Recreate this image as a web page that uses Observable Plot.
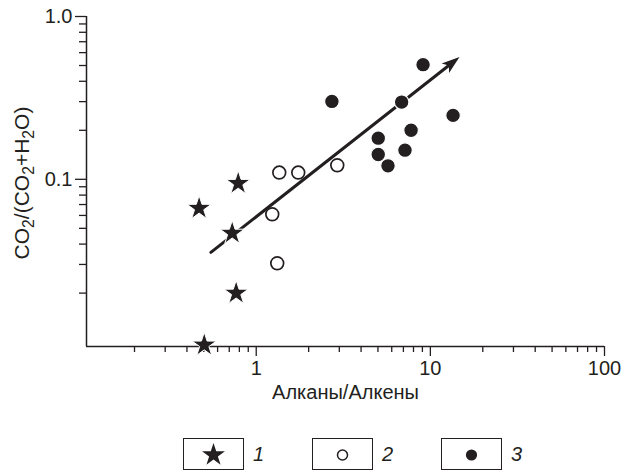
<!DOCTYPE html>
<html><head><meta charset="utf-8">
<script src="https://cdn.jsdelivr.net/npm/d3@7"></script>
<script src="https://cdn.jsdelivr.net/npm/@observablehq/plot@0.6"></script>
<style>
body{margin:0;background:#fff;font-family:"Liberation Sans",Arial,sans-serif;}
#legend{position:relative;height:59px;width:635px;}
.item{position:absolute;top:26px;display:flex;align-items:center;height:32px;}
.item span{font-style:italic;font-size:20px;margin-left:9px;color:#231f20;}
</style></head><body><div id="chart"></div><div id="legend"></div>
<script>
const ink = "#231f20";
// group 1 (stars), group 2 (open circles), group 3 (filled circles)
const group1X = [0.470, 0.788, 0.728, 0.767, 0.503];
const group1Y = [0.0664, 0.0945, 0.0467, 0.0200, 0.0096];
const group2X = [1.356, 1.743, 1.236, 1.32, 2.92];
const group2Y = [0.110, 0.110, 0.061, 0.0305, 0.122];
const group3X = [2.72, 9.08, 6.84, 13.5, 7.75, 5.02, 5.02, 7.15, 5.71];
const group3Y = [0.301, 0.506, 0.298, 0.247, 0.200, 0.179, 0.142, 0.151, 0.121];
const trendX = [0.549, 14.7];
const trendY = [0.0356, 0.563];
const xTickValues = [1, 10, 100];
const xTickLabels = ["1", "10", "100"];
const yTickValues = [0.1, 1];
const yTickLabels = ["0.1", "1.0"];
const xMinorTicks = [0.2,0.3,0.4,0.5,0.6,0.7,0.8,0.9,2,3,4,5,6,7,8,9,20,30,40,50,60,70,80,90];
const yMinorTicks = [0.02,0.03,0.04,0.05,0.06,0.07,0.08,0.09,0.2,0.3,0.4,0.5,0.6,0.7,0.8,0.9];
const legendLabels = ["1", "2", "3"];
const xTitle = "Алканы/Алкены";
const yTitleParts = [["CO",""],["2","sub"],["/(CO",""],["2","sub"],["+H",""],["2","sub"],["O)",""]];

const W = 635, H = 412, mL = 86, mR = 31, mT = 16, mB = 66;
const xDomain = [0.106, 100], yDomain = [0.0094, 1];
const FS = 20;

const pts = (xs, ys) => xs.map((x, i) => ({x, y: ys[i]}));
const g1 = pts(group1X, group1Y), g2 = pts(group2X, group2Y), g3 = pts(group3X, group3Y);
const trend = [{x1: trendX[0], y1: trendY[0], x2: trendX[1], y2: trendY[1]}];

// screen angle of the trend arrow (for the arrowhead rotation)
const sx = d3.scaleLog(xDomain, [mL, W - mR]), sy = d3.scaleLog(yDomain, [H - mB, mT]);
const angle = Math.atan2(sy(trendY[1]) - sy(trendY[0]), sx(trendX[1]) - sx(trendX[0])) * 180 / Math.PI + 90;
const arrowHead = {draw(ctx) { ctx.moveTo(0, 0); ctx.lineTo(6, 18); ctx.lineTo(0, 13.5); ctx.lineTo(-6, 18); ctx.closePath(); }};

const plot = Plot.plot({
  width: W, height: H,
  marginLeft: mL, marginRight: mR, marginTop: mT, marginBottom: mB,
  style: {fontFamily: "Liberation Sans, Arial, sans-serif", color: ink, background: "#fff"},
  x: {type: "log", domain: xDomain},
  y: {type: "log", domain: yDomain},
  marks: [
    Plot.axisX(xMinorTicks, {tickSize: 6, tickFormat: () => "", strokeWidth: 1.3, label: null}),
    Plot.axisX(xTickValues, {tickSize: 10, tickPadding: 4, fontSize: FS, strokeWidth: 1.3,
      tickFormat: d => xTickLabels[xTickValues.indexOf(d)], label: null}),
    Plot.axisY(yMinorTicks, {tickSize: 7, tickFormat: () => "", strokeWidth: 1.3, label: null}),
    Plot.axisY(yTickValues, {tickSize: 11, tickPadding: 3, fontSize: FS, strokeWidth: 1.3,
      tickFormat: d => yTickLabels[yTickValues.indexOf(d)], label: null}),
    Plot.ruleY([yDomain[0]], {stroke: ink, strokeWidth: 1.5}),
    Plot.ruleX([xDomain[0]], {stroke: ink, strokeWidth: 1.5}),
    Plot.arrow(trend, {x1: "x1", y1: "y1", x2: "x2", y2: "y2", headLength: 0, insetEnd: 10,
      stroke: ink, strokeWidth: 3}),
    Plot.dot(trend, {x: "x2", y: "y2", symbol: arrowHead, fill: ink, rotate: angle}),
    Plot.dot(g1, {x: "x", y: "y", symbol: "star", r: 7.6, fill: ink, stroke: "white", strokeWidth: 1}),
    Plot.dot(g2, {x: "x", y: "y", symbol: "circle", r: 6.4, fill: "white", stroke: ink, strokeWidth: 1.7}),
    Plot.dot(g3, {x: "x", y: "y", symbol: "circle", r: 7.3, fill: ink, stroke: "white", strokeWidth: 1.2}),
    Plot.text([xTitle], {text: d => d, frameAnchor: "bottom", dy: 52, fontSize: FS, fill: ink})
  ]
});

// y-axis title with subscripts
const yFS = 21;
const yt = d3.select(plot).append("text")
  .attr("transform", `translate(${mL - 57},${(mT + H - mB) / 2 + 2}) rotate(-90)`)
  .attr("text-anchor", "middle").attr("font-size", yFS).attr("fill", ink);
yTitleParts.forEach(([s, kind], i) => {
  const prev = i > 0 ? yTitleParts[i - 1][1] : "";
  let dy = 0;
  if (kind === "sub" && prev !== "sub") dy = 5;
  if (kind !== "sub" && prev === "sub") dy = -5;
  const ts = yt.append("tspan").text(s).attr("dy", dy);
  if (kind === "sub") ts.attr("font-size", yFS * 0.75);
});
document.getElementById("chart").appendChild(plot);

// legend
const legend = d3.select("#legend");
const legendSymbols = [
  {type: d3.symbolStar, size: Math.PI * 7.2 * 7.2, fill: ink, stroke: "none"},
  {type: d3.symbolCircle, size: Math.PI * 5 * 5, fill: "white", stroke: ink},
  {type: d3.symbolCircle, size: Math.PI * 5.6 * 5.6, fill: ink, stroke: "none"}
];
legendLabels.forEach((lab, i) => {
  const item = legend.append("div").attr("class", "item").style("left", (183 + 129 * i) + "px");
  const s = item.append("svg").attr("width", 61).attr("height", 32);
  s.append("rect").attr("x", 0.5).attr("y", 0.5).attr("width", 60).attr("height", 31)
    .attr("fill", "none").attr("stroke", ink).attr("stroke-width", 1);
  const sym = legendSymbols[i];
  s.append("path").attr("transform", "translate(30.5,17)")
    .attr("d", d3.symbol(sym.type, sym.size)())
    .attr("fill", sym.fill).attr("stroke", sym.stroke).attr("stroke-width", 1.5);
  item.append("span").text(lab);
});
</script></body></html>
